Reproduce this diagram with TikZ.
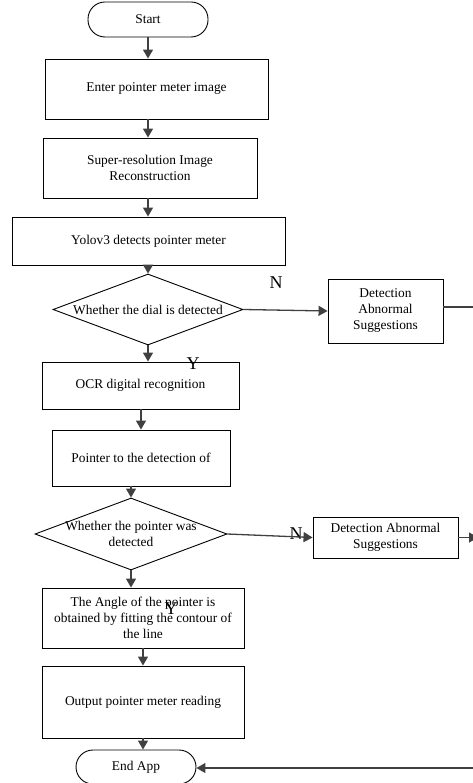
\documentclass[tikz,border=0pt]{standalone}
\usepackage{fontspec}
\setmainfont{Liberation Serif}
\usetikzlibrary{shapes.geometric,arrows.meta}
\definecolor{lc}{RGB}{64,64,64}
\begin{document}
\begin{tikzpicture}[x=1pt,y=-1pt,
  txt/.style={font=\fontsize{13.4}{16}\selectfont, align=center},
  box/.style={draw=black, line width=0.9pt, inner sep=0pt, txt},
  term/.style={box, rounded corners=17pt},
  dec/.style={draw=black, line width=0.9pt, diamond, inner sep=0pt},
  arr/.style={draw=lc, line width=1.3pt, -{Triangle[width=10pt,length=9pt]}},
  ln/.style={draw=lc, line width=1.3pt},
  lab/.style={font=\fontsize{18}{18}\selectfont, inner sep=0pt}
]
\useasboundingbox (0,0) rectangle (472,783);

\node[term, minimum width=120pt, minimum height=35pt] (start) at (148,19.5) {Start};
\node[box, minimum width=223pt, minimum height=60pt] (enter) at (156.5,89) {Enter pointer meter image};
\node[box, minimum width=214pt, minimum height=60pt] (super) at (150,168) {Super-resolution Image\\Reconstruction};
\node[box, minimum width=273pt, minimum height=48pt] (yolo) at (148.5,241) {Yolov3 detects pointer meter};
\node[dec, minimum width=190pt, minimum height=71pt, aspect=2.68,
      label={[txt]center:Whether the dial is detected}] (d1) at (148,309.5) {};
\node[box, minimum width=115pt, minimum height=64pt] (det1) at (385.5,311) {Detection\\Abnormal\\Suggestions};
\node[box, minimum width=197pt, minimum height=47pt] (ocr) at (140.5,385.5) {OCR digital recognition};
\node[box, minimum width=178pt, minimum height=56pt] (ptr) at (141,458) {Pointer to the detection of};
\node[dec, minimum width=192pt, minimum height=72pt, aspect=2.67,
      label={[txt]center:Whether the pointer was\\detected}] (d2) at (131,534) {};
\node[box, minimum width=145pt, minimum height=41pt] (det2) at (385.5,537.5) {Detection Abnormal\\Suggestions};
\node[box, minimum width=202pt, minimum height=60pt] (angle) at (143,618) {The Angle of the pointer is\\obtained by fitting the contour of\\the line};
\node[box, minimum width=202pt, minimum height=72pt] (out) at (143,702) {Output pointer meter reading};
\node[term, minimum width=120pt, minimum height=34pt] (end) at (136,767) {End App};

\node[lab] (n1) at (276,283) {N};
\node[lab] (y1) at (193,364) {Y};
\node[lab] (n2) at (296,534) {N};
\node[lab] (y2) at (171,609) {Y};

\coordinate (rtop) at (478,307);
\coordinate (rbot) at (478,768);

\draw[arr] (start.south) -- (start.south |- enter.north);
\draw[arr] (start.south |- enter.south) -- (start.south |- super.north);
\draw[arr] (start.south |- super.south) -- (start.south |- yolo.north);
\draw[arr] (d1.north |- yolo.south) -- (d1.north);
\draw[arr] (d1.east) -- (det1.west);
\draw[arr] (d1.south) -- (d1.south |- ocr.north);
\draw[arr] (ptr.north |- ocr.south) -- (ptr.north);
\draw[arr] (d2.north |- ptr.south) -- (d2.north);
\draw[arr] (d2.east) -- (det2.west);
\draw[arr] (d2.south) -- (d2.south |- angle.north);
\draw[arr] (angle.south) -- (out.north);
\draw[arr] (out.south) -- (out.south |- end.north);

\draw[ln] (det1.east |- rtop) -- (rtop) -- (rbot);
\draw[arr] (det2.east) -- (det2.east -| rtop);
\draw[arr] (rbot) -- (end.east |- rbot);
\end{tikzpicture}
\end{document}
